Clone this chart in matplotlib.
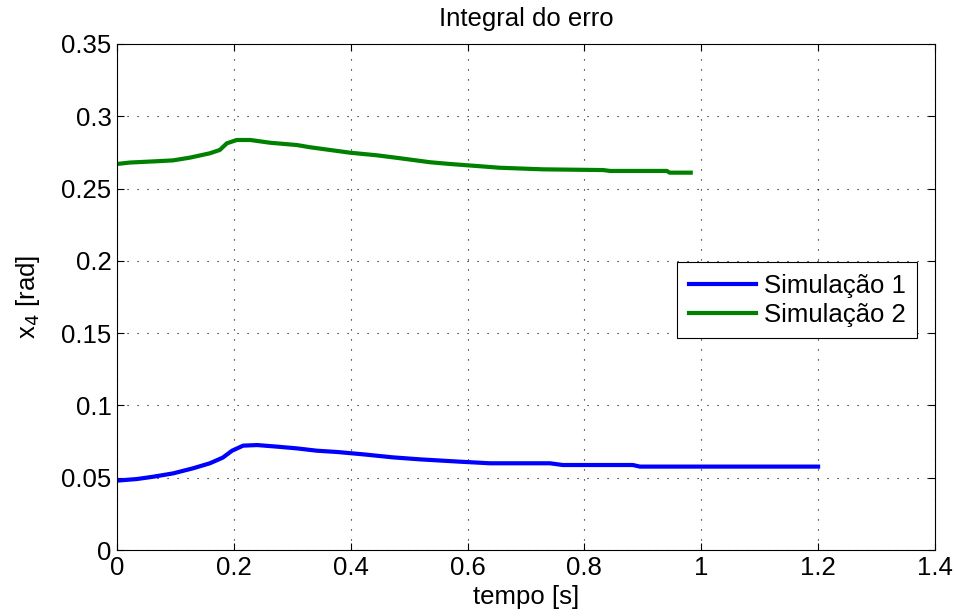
import matplotlib.pyplot as plt

# Simulação 1 (integral do erro)
t1 = [0, 0.034, 0.062, 0.096, 0.130, 0.159, 0.181, 0.197, 0.216, 0.240,
      0.274, 0.308, 0.342, 0.377, 0.421, 0.472, 0.519, 0.587, 0.638, 0.741,
      0.763, 0.883, 0.895, 1.200]
x1 = [0.0480, 0.0491, 0.0507, 0.0530, 0.0565, 0.0600, 0.0639, 0.0687, 0.0722, 0.0726,
      0.0715, 0.0703, 0.0687, 0.0678, 0.0662, 0.0641, 0.0627, 0.0611, 0.0600, 0.0600,
      0.0588, 0.0588, 0.0577, 0.0577]

# Simulação 2
t2 = [0, 0.022, 0.068, 0.096, 0.125, 0.159, 0.176, 0.188, 0.205, 0.228,
      0.262, 0.308, 0.330, 0.399, 0.445, 0.484, 0.536, 0.570, 0.616, 0.655,
      0.729, 0.832, 0.844, 0.941, 0.946, 0.982]
x2 = [0.2670, 0.2680, 0.2689, 0.2695, 0.2714, 0.2744, 0.2767, 0.2813, 0.2836, 0.2836,
      0.2817, 0.2801, 0.2786, 0.2748, 0.2730, 0.2710, 0.2682, 0.2670, 0.2656, 0.2644,
      0.2633, 0.2628, 0.2622, 0.2622, 0.2610, 0.2610]

labels = ['Simulação 1', 'Simulação 2']

plt.rcParams['font.family'] = ['Liberation Sans', 'DejaVu Sans']
fs = 18.5

fig = plt.figure(figsize=(9.55, 6.16), dpi=100)
ax = fig.add_axes([0.1225, 0.1071, 0.8565, 0.8215])

ax.plot(t1, x1, color=(0, 0, 1), linewidth=3, label=labels[0])
ax.plot(t2, x2, color=(0, 0.5, 0), linewidth=3, label=labels[1])

ax.set_xlim(0, 1.4)
ax.set_ylim(0, 0.35)
ax.set_xticks([0, 0.2, 0.4, 0.6, 0.8, 1, 1.2, 1.4])
ax.set_xticklabels(['0', '0.2', '0.4', '0.6', '0.8', '1', '1.2', '1.4'])
ax.set_yticks([0, 0.05, 0.1, 0.15, 0.2, 0.25, 0.3, 0.35])
ax.set_yticklabels(['0', '0.05', '0.1', '0.15', '0.2', '0.25', '0.3', '0.35'])

ax.grid(True, color='black', linestyle=(0, (1, 8)), linewidth=0.8)
ax.tick_params(direction='in', length=5, labelsize=fs, top=True, right=True, pad=4)
for s in ax.spines.values():
    s.set_linewidth(0.8)

ax.set_title('Integral do erro', fontsize=fs, pad=13)
ax.set_xlabel('tempo [s]', fontsize=fs, labelpad=4)
ax.set_ylabel('x$_4$ [rad]', fontsize=fs)
ax.yaxis.set_label_coords(-0.092, 0.5)

leg = ax.legend(loc='upper right', bbox_to_anchor=(0.978, 0.569), fontsize=fs,
                fancybox=False, edgecolor='black', framealpha=1,
                handlelength=2.6, borderpad=0.45, labelspacing=0.2,
                handletextpad=0.3, borderaxespad=0)
leg.get_frame().set_linewidth(0.8)

fig.savefig('out.png', dpi=100)
